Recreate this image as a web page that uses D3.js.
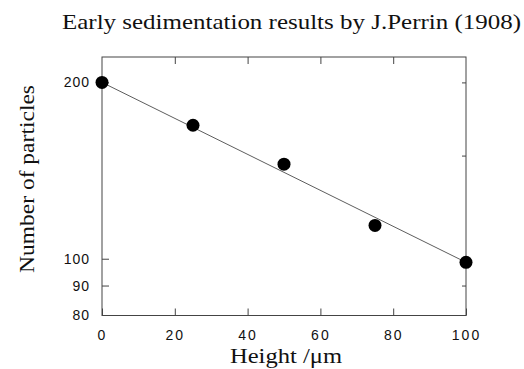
<!DOCTYPE html>
<html>
<head>
<meta charset="utf-8">
<script src="https://cdn.jsdelivr.net/npm/d3@7"></script>
<style>
  body { margin: 0; background: #fff; }
  svg { display: block; }
</style>
</head>
<body>
<div id="chart"></div>
<script>
var heights = [0, 25, 50, 75, 100];
var particles = [200, 169, 145, 114, 98.6];
var fitHeights = [0, 100];
var fitParticles = [200, 98.6];
var xTicks = [0, 20, 40, 60, 80, 100];
var yTicks = [80, 90, 100, 200];
var yMinorRight = [90, 100, 150, 200];

var W = 524, H = 369;
var plot = { left: 102, right: 466, top: 57, bottom: 315.5 };

var svg = d3.select('#chart').append('svg')
  .attr('width', W)
  .attr('height', H);

var x = d3.scaleLinear().domain([0, 100]).range([plot.left, plot.right]);
var y = d3.scaleLog().domain([80, 221]).range([plot.bottom, plot.top]);

var serif = 'Liberation Serif, Times New Roman, serif';
var sans = 'Liberation Sans, Arial, sans-serif';

// frame
svg.append('rect')
  .attr('x', plot.left).attr('y', plot.top)
  .attr('width', plot.right - plot.left).attr('height', plot.bottom - plot.top)
  .attr('fill', 'none')
  .attr('stroke', '#444')
  .attr('stroke-width', 1);

// bottom / top ticks (inward)
svg.append('g').attr('transform', 'translate(0,' + plot.bottom + ')')
  .call(d3.axisBottom(x).tickValues(xTicks).tickSize(-7).tickPadding(15).tickFormat(d3.format('d')))
  .call(function (g) {
    g.select('.domain').remove();
    g.selectAll('line').attr('stroke', '#444');
    g.selectAll('text')
      .attr('font-family', sans)
      .attr('font-size', '14px')
      .attr('letter-spacing', '2px')
      .attr('fill', '#111');
  });

svg.append('g').attr('transform', 'translate(0,' + plot.top + ')')
  .call(d3.axisTop(x).tickValues(xTicks.slice(1, -1)).tickSize(-7).tickFormat(''))
  .call(function (g) {
    g.select('.domain').remove();
    g.selectAll('line').attr('stroke', '#444');
  });

// left ticks
svg.append('g').attr('transform', 'translate(' + plot.left + ',0)')
  .call(d3.axisLeft(y).tickValues(yTicks).tickSize(-7).tickPadding(12).tickFormat(d3.format('d')))
  .call(function (g) {
    g.select('.domain').remove();
    g.selectAll('line').attr('stroke', '#444');
    g.selectAll('.tick').filter(function (d) { return d === 80; }).select('line').remove();
    g.selectAll('text')
      .attr('font-family', sans)
      .attr('font-size', '14px')
      .attr('letter-spacing', '1px')
      .attr('fill', '#111');
  });

// right ticks
svg.append('g').attr('transform', 'translate(' + plot.right + ',0)')
  .call(d3.axisRight(y).tickValues(yMinorRight).tickSize(-4).tickFormat(''))
  .call(function (g) {
    g.select('.domain').remove();
    g.selectAll('line').attr('stroke', '#444');
  });

// fit line
var line = d3.line()
  .x(function (d) { return x(d[0]); })
  .y(function (d) { return y(d[1]); });

svg.append('path')
  .datum(d3.zip(fitHeights, fitParticles))
  .attr('d', line)
  .attr('fill', 'none')
  .attr('stroke', '#333')
  .attr('stroke-width', 0.8);

// points
svg.selectAll('circle.pt')
  .data(d3.zip(heights, particles))
  .enter()
  .append('circle')
  .attr('class', 'pt')
  .attr('cx', function (d) { return x(d[0]); })
  .attr('cy', function (d) { return y(d[1]); })
  .attr('r', 6.5)
  .attr('fill', '#000');

// title and labels
svg.append('text')
  .attr('x', 62)
  .attr('y', 29)
  .attr('font-family', serif)
  .attr('font-size', '22px')
  .attr('textLength', 459)
  .attr('lengthAdjust', 'spacingAndGlyphs')
  .attr('fill', '#111')
  .text('Early sedimentation results by J.Perrin (1908)');

svg.append('text')
  .attr('x', 230)
  .attr('y', 363)
  .attr('font-family', serif)
  .attr('font-size', '21px')
  .attr('textLength', 112)
  .attr('lengthAdjust', 'spacingAndGlyphs')
  .attr('fill', '#111')
  .text('Height /\u03bcm');

svg.append('text')
  .attr('transform', 'translate(34,273) rotate(-90)')
  .attr('font-family', serif)
  .attr('font-size', '22px')
  .attr('textLength', 188)
  .attr('lengthAdjust', 'spacingAndGlyphs')
  .attr('fill', '#111')
  .text('Number of particles');
</script>
</body>
</html>
